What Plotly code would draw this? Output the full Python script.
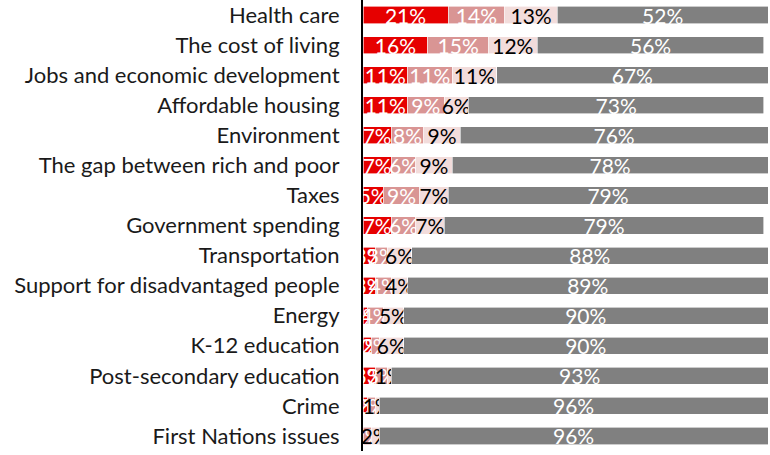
import plotly.graph_objects as go

# Issues, top to bottom as shown
issues = [
    "Health care",
    "The cost of living",
    "Jobs and economic development",
    "Affordable housing",
    "Environment",
    "The gap between rich and poor",
    "Taxes",
    "Government spending",
    "Transportation",
    "Support for disadvantaged people",
    "Energy",
    "K-12 education",
    "Post-secondary education",
    "Crime",
    "First Nations issues",
]

# Share of respondents (%) per rank bucket
first = [21, 16, 11, 11, 7, 7, 5, 7, 3, 3, 1, 2, 3, 1, 0]
second = [14, 15, 11, 9, 8, 6, 9, 6, 3, 4, 4, 2, 3, 2, 2]
third = [13, 12, 11, 6, 9, 9, 7, 7, 6, 4, 5, 6, 1, 1, 2]
not_ranked = [52, 56, 67, 73, 76, 78, 79, 79, 88, 89, 90, 90, 93, 96, 96]

series = [
    ("First", first, "#E60000", "white"),
    ("Second", second, "#D99594", "white"),
    ("Third", third, "#F2DCDB", "black"),
    ("Not ranked", not_ranked, "#808080", "white"),
]

FONT = "Lato, 'Open Sans', sans-serif"

fig = go.Figure()

for name, vals, color, txtcolor in series:
    fig.add_trace(go.Bar(
        y=issues,
        x=vals,
        name=name,
        orientation="h",
        marker=dict(color=color, line=dict(color="white", width=0.6)),
        text=[f"{v}%" if v > 0 else "" for v in vals],
        textposition="inside",
        insidetextanchor="middle",
        textangle=0,
        constraintext="none",
        textfont=dict(family=FONT, size=21, color=txtcolor),
        cliponaxis=False,
        hoverinfo="skip",
    ))

fig.update_layout(
    barmode="stack",
    bargap=0.43,
    width=770,
    height=455,
    margin=dict(l=363, r=2, t=0, b=4),
    plot_bgcolor="white",
    paper_bgcolor="white",
    showlegend=False,
    uniformtext=dict(mode="show", minsize=21),
    font=dict(family=FONT, color="#1a1a1a"),
    xaxis=dict(
        range=[0, 100],
        visible=False,
        fixedrange=True,
    ),
    yaxis=dict(
        autorange="reversed",
        showline=True,
        linecolor="black",
        linewidth=2,
        showgrid=False,
        ticks="",
        ticklabelstandoff=17,
        tickfont=dict(family=FONT, size=22, color="#1a1a1a"),
        fixedrange=True,
    ),
)

# drop the page's default body margin so the chart sits at the window corner
fig.write_html(
    "out.html",
    config={"displayModeBar": False},
    post_script="document.body.style.margin='0';",
)
